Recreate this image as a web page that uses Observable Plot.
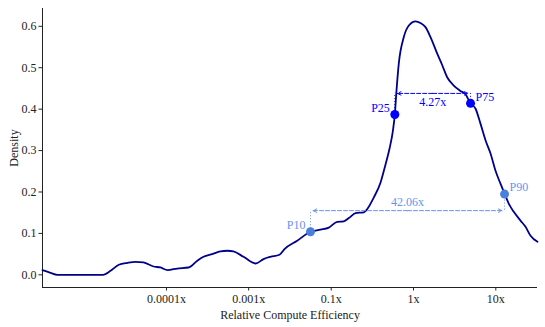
<!DOCTYPE html>
<html><head><meta charset="utf-8">
<script src="https://cdn.jsdelivr.net/npm/d3@7"></script>
<script src="https://cdn.jsdelivr.net/npm/@observablehq/plot@0.6"></script>
<style>
body{margin:0;background:#fff}
#chart svg, #chart svg text { font-family: "Liberation Serif", "DejaVu Serif", serif !important; }
</style>
</head><body><div id="chart"></div>
<script>
// log10 of relative compute efficiency (position units) and density
const logEff = [-3.097,-3.030,-2.974,-2.590,-2.529,-2.460,-2.387,-2.321,-2.254,-2.170,-2.112,-2.053,-1.972,-1.878,-1.805,-1.753,-1.680,-1.611,-1.555,-1.503,-1.419,-1.319,-1.252,-1.194,-1.119,-1.077,-0.971,-0.860,-0.776,-0.707,-0.637,-0.582,-0.540,-0.484,-0.415,-0.386,-0.331,-0.275,-0.234,-0.200,-0.173,-0.156,-0.144,-0.123,-0.081,-0.039,0.017,0.058,0.100,0.142,0.198,0.240,0.281,0.336,0.392,0.434,0.476,0.518,0.559,0.601,0.643,0.684,0.726,0.760,0.795,0.837,0.893,0.935,0.977,1.035];
const density = [0.0114,0.0048,0,0,0.0097,0.0242,0.029,0.0314,0.0298,0.0201,0.0177,0.0114,0.0152,0.0177,0.0339,0.0435,0.0501,0.0564,0.0581,0.0564,0.0435,0.0273,0.0380,0.0435,0.0484,0.0622,0.0823,0.104,0.109,0.114,0.128,0.129,0.137,0.149,0.151,0.159,0.187,0.223,0.266,0.305,0.346,0.387,0.437,0.510,0.574,0.602,0.612,0.608,0.598,0.574,0.534,0.506,0.477,0.457,0.444,0.436,0.414,0.401,0.365,0.325,0.293,0.252,0.220,0.196,0.172,0.152,0.131,0.116,0.0944,0.0798];

const tickPos = [-2.062, -1.376, -0.687, 0, 0.687];
const tickLabels = ["0.0001x", "0.001x", "0.1x", "1x", "10x"];
const yTicks = [0, 0.1, 0.2, 0.3, 0.4, 0.5, 0.6];

const pctNames = ["P10", "P25", "P75", "P90"];
const pctLogEff = [-0.860, -0.156, 0.476, 0.760];
const pctDensity = [0.104, 0.387, 0.414, 0.195];

const spreadLabels = ["42.06x", "4.27x"];
const spreadLevels = [0.155, 0.438];

const X0 = -3.097, X1 = 1.035, Y0 = -0.0306, Y1 = 0.643;
const dark = "#0000ff", light = "#6495ed", lightDot = "#4a80dc";

const curve = logEff.map((x, i) => ({x, y: density[i]}));
const pct = pctNames.map((name, i) => ({
  name, x: pctLogEff[i], y: pctDensity[i],
  outer: i === 0 || i === 3,
  level: (i === 0 || i === 3) ? spreadLevels[0] : spreadLevels[1]
}));
const spreads = [
  {a: pct[0], b: pct[3], y: spreadLevels[0], label: spreadLabels[0], color: light},
  {a: pct[1], b: pct[2], y: spreadLevels[1], label: spreadLabels[1], color: dark}
];
const arrows = [];
spreads.forEach(s => {
  const m = (s.a.x + s.b.x) / 2;
  arrows.push({x1: m, x2: s.a.x, y: s.y, color: s.color});
  arrows.push({x1: m, x2: s.b.x, y: s.y, color: s.color});
});

const font = "Liberation Serif, DejaVu Serif, serif";

const chart = Plot.plot({
  width: 545, height: 327,
  marginLeft: 42, marginRight: 8, marginTop: 8, marginBottom: 40,
  style: {fontFamily: font, fontSize: "12px", background: "#fff", color: "#222"},
  x: {domain: [X0, X1]},
  y: {domain: [Y0, Y1]},
  marks: [
    Plot.axisX(tickPos, {tickSize: 3.5, tickPadding: 3, stroke: "#222",
      tickFormat: d => tickLabels[tickPos.indexOf(d)], fill: "#222", fontSize: 12,
      label: "Relative Compute Efficiency", labelAnchor: "center", labelArrow: "none", labelOffset: 31}),
    Plot.axisY(yTicks, {tickSize: 3.5, tickPadding: 2.5, stroke: "#222", tickFormat: d3.format(".1f"), fill: "#222", fontSize: 12,
      label: "Density", labelAnchor: "center", labelArrow: "none", labelOffset: 33}),
    Plot.ruleX([X0], {stroke: "#222", strokeWidth: 1}),
    Plot.ruleY([Y0], {stroke: "#222", strokeWidth: 1}),
    Plot.line(curve, {x: "x", y: "y", stroke: "#00008b", strokeWidth: 1.8, curve: "monotone-x"}),
    Plot.ruleX(pct, {x: "x", y1: "y", y2: "level", stroke: d => d.outer ? light : dark, strokeDasharray: "1,2", strokeWidth: 1}),
    Plot.arrow(arrows, {x1: "x1", x2: "x2", y1: "y", y2: "y", stroke: "color", strokeWidth: 1,
      strokeDasharray: "4,2", headLength: 6, headAngle: 50, insetEnd: 2.5}),
    Plot.dot(pct, {x: "x", y: "y", r: 4.5, fill: d => d.outer ? lightDot : dark, stroke: "none"}),
    Plot.text(pct.filter((d, i) => i < 2), {x: "x", y: "y", text: "name", textAnchor: "end", dx: -5, dy: -6.5,
      fill: d => d.outer ? light : dark, fontSize: 12}),
    Plot.text(pct.filter((d, i) => i >= 2), {x: "x", y: "y", text: "name", textAnchor: "start", dx: 5, dy: -6.5,
      fill: d => d.outer ? light : dark, fontSize: 12}),
    Plot.text([spreads[0]], {x: d => (d.a.x + d.b.x) / 2, y: "y", text: "label", fill: light, dy: -8.5, fontSize: 12}),
    Plot.text([spreads[1]], {x: d => (d.a.x + d.b.x) / 2, y: "y", text: "label", fill: dark, dy: 9, fontSize: 12})
  ]
});
document.getElementById("chart").appendChild(chart);
</script>
</body></html>
